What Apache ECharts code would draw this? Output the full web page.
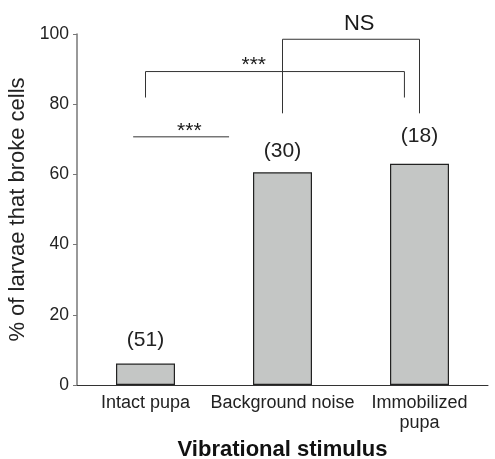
<!DOCTYPE html>
<html>
<head>
<meta charset="utf-8">
<script src="https://cdn.jsdelivr.net/npm/echarts@6/dist/echarts.min.js"></script>
<style>html,body{margin:0;padding:0;background:#fff}#c{width:495px;height:459px}</style>
</head>
<body>
<div id="c"></div>
<script>
var categories = ['Intact pupa', 'Background noise', 'Immobilized\npupa'];
var percentBroke = [6.1, 60.6, 63.0];
var sampleSizes = [51, 30, 18];
var yTicks = [0, 20, 40, 60, 80, 100];
// significance brackets: [x, y] in category-index units / percent
var sigShort = [[-0.09, 70.7], [0.61, 70.7]];
var sigBracket1 = [[0, 81.9], [0, 89.3], [1.89, 89.3], [1.89, 81.9]];
var sigBracketNS = [[1, 77.4], [1, 98.5], [2, 98.5], [2, 77.4]];
var sigTexts = [[0.32, 72.3, '***'], [0.79, 91.0, '***'], [1.56, 102.8, 'NS']];

var FONT = '"Liberation Sans", Arial, Helvetica, sans-serif';
var chart = echarts.init(document.getElementById('c'), null, {renderer: 'canvas'});
var bracketStyle = {color: '#333', width: 1};
function bracket(d) {
  return {type: 'line', xAxisIndex: 1, data: d, symbol: 'none', clip: false,
    lineStyle: bracketStyle, silent: true, animation: false, z: 5};
}
chart.setOption({
  animation: false,
  grid: {left: 77, right: 7, top: 34, bottom: 74, containLabel: false, outerBoundsMode: 'none'},
  xAxis: [{
    type: 'category', data: categories,
    axisLine: {lineStyle: {color: '#333', width: 1}},
    axisTick: {show: false},
    axisLabel: {fontSize: 18, color: '#222', fontFamily: FONT, margin: 8, lineHeight: 20, interval: 0},
    name: 'Vibrational stimulus', nameLocation: 'middle', nameGap: 54,
    nameTextStyle: {fontSize: 22, fontWeight: 'bold', color: '#111', fontFamily: FONT}
  }, {
    type: 'value', min: -0.5, max: 2.5, show: false
  }],
  yAxis: {
    type: 'value', min: yTicks[0], max: yTicks[yTicks.length - 1], interval: 20,
    axisLine: {show: true, onZero: false, lineStyle: {color: '#777', width: 1.5}},
    axisTick: {show: true, length: 4, lineStyle: {color: '#777'}},
    splitLine: {show: false},
    axisLabel: {fontSize: 17.5, color: '#222', fontFamily: FONT, margin: 8},
    name: '% of larvae that broke cells', nameLocation: 'middle', nameGap: 43, nameRotate: 90,
    nameTextStyle: {fontSize: 22, color: '#222', fontFamily: FONT}
  },
  series: [{
    type: 'bar', barWidth: 59,
    data: percentBroke.map(function (v, i) {
      return {value: v, label: {distance: [13, 11, 17][i]}};
    }),
    itemStyle: {color: '#c4c6c5', borderColor: '#222', borderWidth: 1.2},
    label: {show: true, position: 'top', fontSize: 21, color: '#222', fontFamily: FONT,
      formatter: function (p) { return '(' + sampleSizes[p.dataIndex] + ')'; }}
  },
  bracket(sigShort), bracket(sigBracket1), bracket(sigBracketNS),
  {
    type: 'scatter', xAxisIndex: 1, symbolSize: 0, clip: false, silent: true,
    itemStyle: {opacity: 1},
    data: sigTexts.map(function (t) {
      return {value: [t[0], t[1]], name: t[2], label: {fontSize: t[2] === 'NS' ? 22 : 21}};
    }),
    label: {show: true, position: 'inside', color: '#1a1a1a', textBorderWidth: 0, fontFamily: FONT,
      formatter: function (p) { return p.name; }}
  }]
});
</script>
</body>
</html>
